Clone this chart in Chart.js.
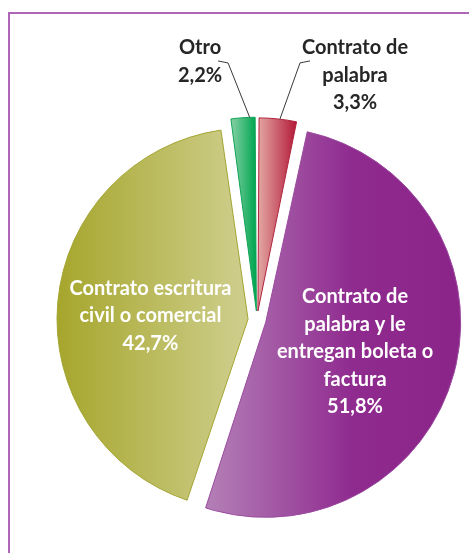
<!DOCTYPE html>
<html>
<head>
<meta charset="utf-8">
<script src="https://cdn.jsdelivr.net/npm/chart.js@4.4.0/dist/chart.umd.min.js"></script>
<style>
  html, body { margin: 0; padding: 0; background: #fff; }
  #wrap { position: relative; width: 469px; height: 553px; }
</style>
</head>
<body>
<div id="wrap"><canvas id="myChart1"></canvas></div>
<script>
// datos ========================================================
const categorias = [
  "Contrato de palabra",
  "Contrato de palabra y le entregan boleta o factura",
  "Contrato escritura civil o comercial",
  "Otro"
];
const porcentajes = [3.3, 51.8, 42.7, 2.2];
// same line breaks as the original labels
const etiquetas = [
  ["Contrato de", "palabra"],
  ["Contrato de", "palabra y le", "entregan boleta o", "factura"],
  ["Contrato escritura", "civil o comercial"],
  ["Otro"]
];

// estilos ======================================================
const degradados = [
  [[0, "#E2A4A1"], [1, "#B01030"]],
  [[0, "#B27CB5"], [0.55, "#8F2A8F"], [1, "#8B2489"]],
  [[0, "#A3A326"], [1, "#CDCD8A"]],
  [[0, "#93D4AC"], [1, "#00A651"]]
];
const bordes = ["#B0243F", "#9B4BA0", "#A4A533", "#10A558"];
const colorTexto = ["#262626", "#ffffff", "#ffffff", "#262626"];
// label centre from pie centre, in radii
const posEtiqueta = [[0.527, -1.315], [0.527, 0.172], [-0.573, -0.022], [-0.306, -1.39]];
// leader lines: two elbows relative to label centre + point along the arc
const guias = [[-45, -14.5, -55, -12.5, 0.55], null, null, [18, -0.5, 28, 1.5, 0.75]];
const RADIO = 186;
const FUENTE = "bold 20px Lato, 'Open Sans', sans-serif";
const INTERLINEA = 27.5;

const marco = {
  id: "marco",
  beforeDraw(chart) {
    const ctx = chart.ctx;
    ctx.save();
    ctx.fillStyle = "#fff";
    ctx.fillRect(0, 0, chart.width, chart.height);
    ctx.strokeStyle = "#B066B8";
    ctx.lineWidth = 2;
    ctx.strokeRect(9, 13, chart.width + 50, chart.height + 50);
    ctx.restore();
  }
};

// horizontal gradient across each slice
const degradado = {
  id: "degradado",
  beforeDatasetDraw(chart, args) {
    args.meta.data.forEach((arc, i) => {
      const mid = (arc.startAngle + arc.endAngle) / 2;
      const off = (arc.options.offset || 0) / 4;
      const cx = arc.x + Math.cos(mid) * off;
      let min = cx, max = cx;
      for (let k = 0; k <= 60; k++) {
        const a = arc.startAngle + (arc.endAngle - arc.startAngle) * k / 60;
        const x = cx + Math.cos(a) * (arc.outerRadius + off);
        min = Math.min(min, x);
        max = Math.max(max, x);
      }
      const g = chart.ctx.createLinearGradient(min, 0, max, 0);
      degradados[i].forEach(s => g.addColorStop(s[0], s[1]));
      arc.options = Object.assign({}, arc.options, { backgroundColor: g });
    });
  }
};

const rotulos = {
  id: "rotulos",
  afterDatasetsDraw(chart) {
    const ctx = chart.ctx;
    const meta = chart.getDatasetMeta(0);
    ctx.save();
    ctx.font = FUENTE;
    ctx.textAlign = "center";
    ctx.textBaseline = "middle";
    meta.data.forEach((arc, i) => {
      const lineas = etiquetas[i].concat([porcentajes[i].toFixed(1).replace(".", ",") + "%"]);
      const lx = arc.x + posEtiqueta[i][0] * RADIO;
      const ly = arc.y + posEtiqueta[i][1] * RADIO;
      ctx.fillStyle = colorTexto[i];
      const y0 = ly - (lineas.length - 1) * INTERLINEA / 2;
      lineas.forEach((t, k) => ctx.fillText(t, lx, y0 + k * INTERLINEA));

      const g = guias[i];
      if (g) {
        const mid = (arc.startAngle + arc.endAngle) / 2;
        const off = (arc.options.offset || 0) / 4;
        const circ = arc.endAngle - arc.startAngle;
        const rr = arc.outerRadius + off * (1 - Math.sin(Math.min(Math.PI, circ)));
        const a = arc.startAngle + circ * g[4];
        const ex = arc.x + Math.cos(mid) * off + Math.cos(a) * rr;
        const ey = arc.y + Math.sin(mid) * off + Math.sin(a) * rr;
        ctx.strokeStyle = "#3a3a3a";
        ctx.lineWidth = 1;
        ctx.beginPath();
        ctx.moveTo(lx + g[0], ly + g[1]);
        ctx.lineTo(lx + g[2], ly + g[3]);
        ctx.lineTo(ex, ey);
        ctx.stroke();
      }
    });
    ctx.restore();
  }
};

const data = {
  labels: categorias,
  datasets: [{
    data: porcentajes,
    backgroundColor: degradados.map(d => d[d.length - 1][1]),
    borderColor: bordes,
    borderWidth: 1,
    offset: 36
  }]
};

const config = {
  type: "pie",
  data: data,
  options: {
    responsive: true,
    maintainAspectRatio: false,
    animation: false,
    events: [],
    radius: RADIO,
    layout: { padding: { left: 50, right: 5, top: 100, bottom: 13 } },
    plugins: {
      legend: { display: false },
      tooltip: { enabled: false }
    }
  },
  plugins: [marco, degradado, rotulos]
};

const myChart = new Chart(document.getElementById("myChart1"), config);
</script>
</body>
</html>
